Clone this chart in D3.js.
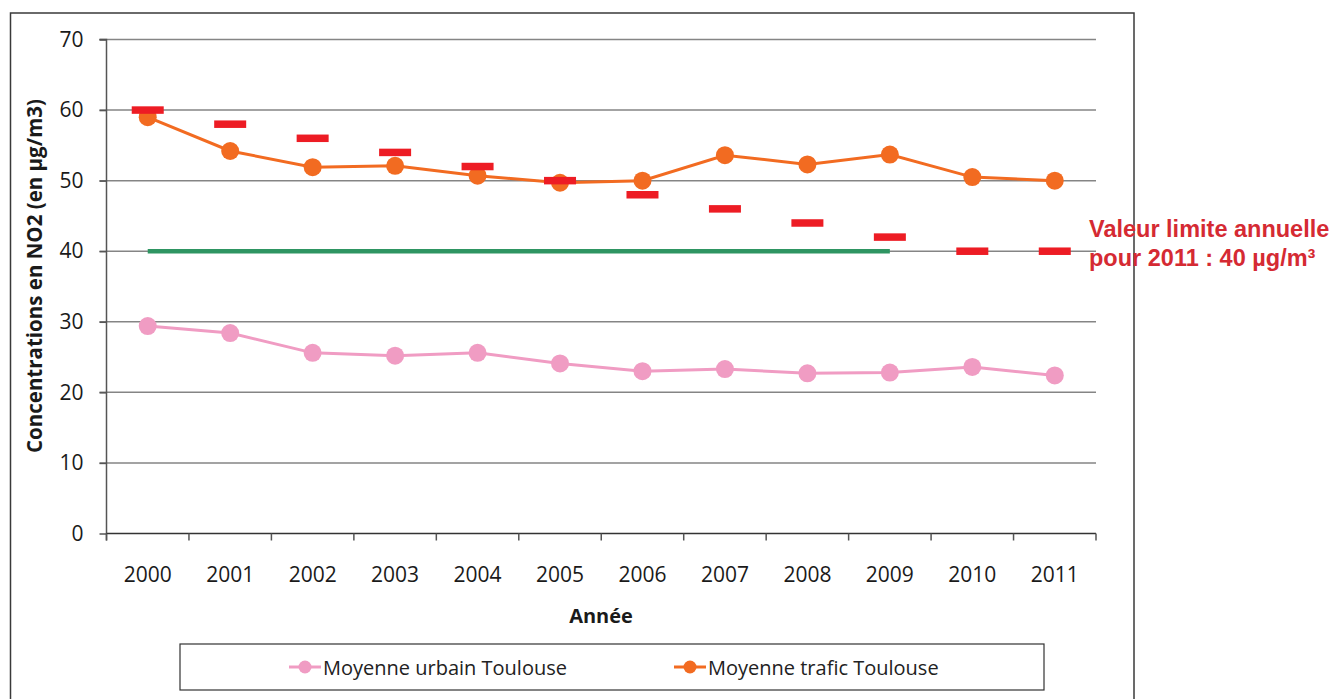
<!DOCTYPE html>
<html><head><meta charset="utf-8">
<script src="https://cdn.jsdelivr.net/npm/d3@7"></script>
<style>body{margin:0;background:#fff;} svg{display:block;}</style>
</head><body>
<svg id="c" width="1337" height="699"></svg>
<script>
const years = ["2000","2001","2002","2003","2004","2005","2006","2007","2008","2009","2010","2011"];
const urbain = [29.4,28.4,25.6,25.2,25.6,24.1,23.0,23.3,22.7,22.8,23.6,22.4];
const trafic = [59.0,54.2,51.9,52.1,50.7,49.7,50.0,53.6,52.3,53.7,50.5,50.0];
const limite = [60,58,56,54,52,50,48,46,44,42,40,40];
const objectif = 40; // green reference line 2000–2009
const objectifYears = ["2000","2009"];
const yTicks = [0,10,20,30,40,50,60,70];
const seriesNames = ["Moyenne urbain Toulouse","Moyenne trafic Toulouse"];
const annotation = ["Valeur limite annuelle","pour 2011 : 40 µg/m³"];

const svg = d3.select("#c");
const L = 106.5, R = 1096, T = 39.5, B = 533.5;
const x = d3.scaleBand().domain(years).range([L, R]);
const y = d3.scaleLinear().domain([0,70]).range([B, T]);
const cx = d => x(d) + x.bandwidth()/2;
const font = "'Open Sans', sans-serif";

// outer frame
svg.append("rect").attr("x",10.5).attr("y",13).attr("width",1123.5).attr("height",700)
  .attr("fill","none").attr("stroke","#3a3a3a").attr("stroke-width",1.5);

// grid lines + y ticks
svg.append("g").selectAll("line").data(yTicks.filter(d=>d>0)).join("line")
  .attr("x1",L-7).attr("x2",R).attr("y1",d=>y(d)).attr("y2",d=>y(d))
  .attr("stroke","#858585").attr("stroke-width",1.5);

// y axis
const yAxis = d3.axisLeft(y).tickValues(yTicks).tickSize(7).tickPadding(16);
const gy = svg.append("g").attr("transform",`translate(${L},0)`).call(yAxis);
gy.select(".domain").attr("stroke","#555").attr("stroke-width",1.5).attr("d",`M-7,${T}H0V${B+7}`);
gy.selectAll(".tick line").attr("stroke","#555").attr("stroke-width",1.5);
gy.selectAll("text").attr("font-family",font).attr("font-size",21).attr("fill","#1a1a1a");

// x axis
const gx = svg.append("g").attr("transform",`translate(0,${B})`);
gx.append("line").attr("x1",L).attr("x2",R).attr("stroke","#333").attr("stroke-width",1.5);
const edges = years.map(d=>x(d)).concat([x(years[years.length-1])+x.bandwidth()]);
gx.selectAll(".tk").data(edges).join("line").attr("class","tk")
  .attr("x1",d=>d).attr("x2",d=>d).attr("y1",0).attr("y2",7)
  .attr("stroke","#555").attr("stroke-width",1.5);
gx.selectAll(".lb").data(years).join("text").attr("class","lb")
  .attr("x",d=>cx(d)).attr("y",48).attr("text-anchor","middle")
  .attr("font-family",font).attr("font-size",21).attr("fill","#1a1a1a").text(d=>d);

// axis titles
svg.append("text").attr("x",601).attr("y",623).attr("text-anchor","middle")
  .attr("font-family",font).attr("font-weight","bold").attr("font-size",20).attr("fill","#1a1a1a").text("Année");
svg.append("text").attr("transform","translate(42,276) rotate(-90)").attr("text-anchor","middle")
  .attr("font-family",font).attr("font-weight","bold").attr("font-size",20.5).attr("fill","#1a1a1a")
  .text("Concentrations en NO2 (en µg/m3)");

// green objective line
svg.append("line").attr("x1",cx(objectifYears[0])).attr("x2",cx(objectifYears[1]))
  .attr("y1",y(objectif)).attr("y2",y(objectif)).attr("stroke","#2e9562").attr("stroke-width",4.5);

// series
const line = d3.line().x((d,i)=>cx(years[i])).y(d=>y(d));
function series(vals,color){
  svg.append("path").datum(vals).attr("d",line).attr("fill","none").attr("stroke",color).attr("stroke-width",3);
  svg.append("g").selectAll("circle").data(vals).join("circle")
    .attr("cx",(d,i)=>cx(years[i])).attr("cy",d=>y(d)).attr("r",9).attr("fill",color);
}
series(urbain,"#f09cc3");
series(trafic,"#f26b21");

// red limit dashes
svg.append("g").selectAll("rect").data(limite).join("rect")
  .attr("x",(d,i)=>cx(years[i])-16).attr("y",d=>y(d)-3.75).attr("width",32).attr("height",7.5)
  .attr("fill","#ed1c24");

// annotation
svg.append("g").selectAll("text").data(annotation).join("text")
  .attr("x",1089).attr("y",(d,i)=>237+i*28.5)
  .attr("font-family","'Liberation Sans', Arial, sans-serif").attr("font-weight","bold")
  .attr("font-size",23.5).attr("fill","#d52a33").text(d=>d);

// legend
svg.append("rect").attr("x",180).attr("y",644).attr("width",864).attr("height",46)
  .attr("fill","#fff").attr("stroke","#333").attr("stroke-width",1.2);
const lg = [{name:seriesNames[0],color:"#f09cc3",x:289},{name:seriesNames[1],color:"#f26b21",x:674}];
const li = svg.append("g").selectAll("g").data(lg).join("g").attr("transform",d=>`translate(${d.x},667)`);
li.append("line").attr("x1",0).attr("x2",32).attr("stroke",d=>d.color).attr("stroke-width",3);
li.append("circle").attr("cx",16).attr("r",6.5).attr("fill",d=>d.color);
li.append("text").attr("x",34).attr("y",7.5).attr("font-family",font).attr("font-size",20)
  .attr("fill","#222").text(d=>d.name);
</script>
</body></html>
